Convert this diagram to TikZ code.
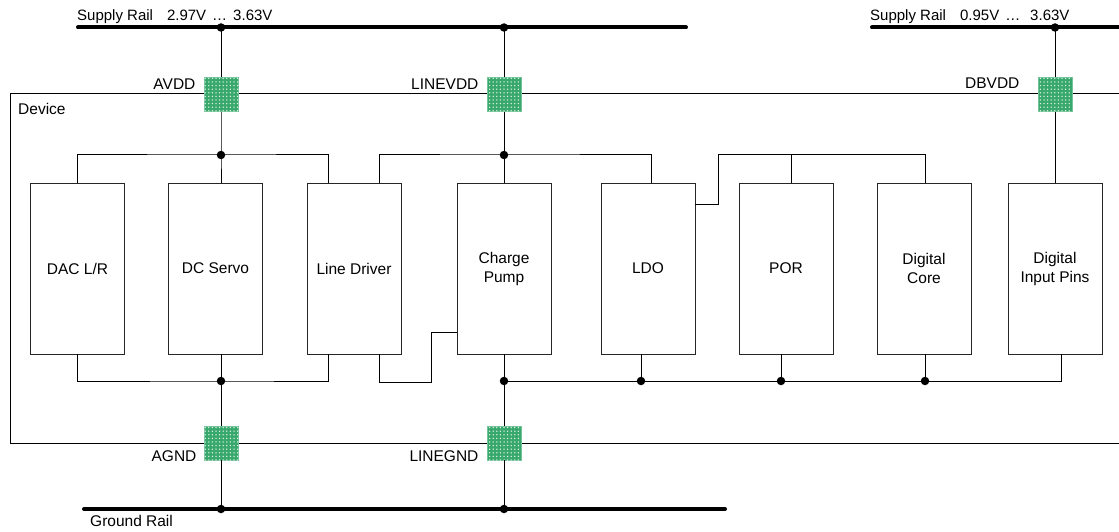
\documentclass[tikz,border=0pt]{standalone}
\usepackage{fontspec}
\setmainfont{Liberation Sans}
\usetikzlibrary{positioning,patterns.meta}

\begin{document}
\begin{tikzpicture}[x=1pt, y=-1pt, line join=miter]

		% Colors
		\definecolor{PadGreen}{RGB}{56,168,108}

		% Styles
		\tikzset{
			wire/.style={line width=1pt, draw=black},
			rail/.style={line width=4pt, line cap=round, draw=black},
			blk/.style={
				draw=black!85, line width=1pt, fill=white,
				minimum width=94pt, minimum height=171pt,
				inner sep=0pt, outer sep=0pt,
				align=center, font=\fontsize{15.5}{19}\selectfont
			},
			pad/.style={
				fill=PadGreen, draw=PadGreen!70!white, line width=0.8pt,
				minimum size=34pt, inner sep=0pt,
				postaction={pattern={Dots[distance=3.6pt, radius=0.75pt]}, pattern color=white!85!PadGreen}
			},
			jn/.style={circle, fill=black, inner sep=0pt, minimum size=8.5pt},
			lbl/.style={inner sep=0pt, font=\fontsize{15.5}{18}\selectfont},
			rlbl/.style={inner sep=0pt, font=\fontsize{15}{18}\selectfont}
		}

		\useasboundingbox (0,0) rectangle (1119,532);

		% Rails
		\draw[rail] (78,27.5) -- (686,27.5);
		\draw[rail] (872,27.5) -- (1125,27.5);
		\draw[rail] (84,509) -- (725,509);
		\node[rlbl, anchor=base west] (supA) at (77,21) {Supply Rail\hspace{14pt}2.97V\hspace{6pt}…\hspace{6pt}3.63V};
		\node[rlbl, anchor=base west] (supD) at (870,21) {Supply Rail\hspace{14pt}0.95V\hspace{6pt}…\hspace{10pt}3.63V};
		\node[lbl, anchor=base west] (gndTxt) at (90,526) {Ground Rail};

		% Device outline
		\draw[wire] (1119,94) -- (10.5,94) -- (10.5,443) -- (1119,443);
		\node[lbl, anchor=base west] (devLbl) at (18,115) {Device};

		% Pads
		\node[pad] (avdd) at (221,94.5) {};
		\node[pad] (linevdd) at (504,94.5) {};
		\node[pad] (dbvdd) at (1055,94.5) {};
		\node[pad] (agnd) at (221,443) {};
		\node[pad] (linegnd) at (504,443) {};

		\node[lbl, anchor=base east] (avddLbl) at ([xshift=-8pt, yshift=5pt]avdd.west) {AVDD};
		\node[lbl, anchor=base east] (linevddLbl) at ([xshift=-8pt, yshift=5pt]linevdd.west) {LINEVDD};
		\node[lbl, anchor=base east] (dbvddLbl) at ([xshift=-18pt, yshift=6pt]dbvdd.west) {DBVDD};
		\node[lbl, anchor=base east] (agndLbl) at ([xshift=-7pt, yshift=-18.5pt]agnd.west) {AGND};
		\node[lbl, anchor=base east] (linegndLbl) at ([xshift=-8pt, yshift=-18.5pt]linegnd.west) {LINEGND};

		% Blocks
		\node[blk] (dac) at (77.5,268.5) {DAC L/R};
		\node[blk, right=44pt of dac] (dcs) {DC Servo};
		\node[blk, right=44.5pt of dcs] (ld) {Line Driver};
		\node[blk, right=56pt of ld] (cp) {Charge\\Pump};
		\node[blk, right=50pt of cp] (ldo) {LDO};
		\node[blk, right=44pt of ldo] (por) {POR};
		\node[blk, right=44pt of por] (dc) {Digital\\Core};
		\node[blk, right=37pt of dc] (dip) {Digital\\Input Pins};

		% Junctions
		\coordinate (jAtop) at (221,27.5);
		\coordinate (jLtop) at (504,27.5);
		\coordinate (jDtop) at (1055,27.5);
		\coordinate (jAbus) at (221,155);
		\coordinate (jLbus) at (504,155);
		\coordinate (jAgnd) at (221,381);
		\coordinate (jLgnd) at (504,381);
		\coordinate (jAbot) at (221,509);
		\coordinate (jLbot) at (504,509);

		% AVDD
		\draw[wire] (jAtop) -- (avdd.north);
		\draw[wire] (avdd.south) -- (jAbus) -- (jAbus |- dcs.north);
		\coordinate (ldA) at ([xshift=-26pt]ld.north);
		\draw[wire] (dac.north) |- (jAbus) -| (ldA);

		% LINEVDD
		\draw[wire] (jLtop) -- (linevdd.north);
		\draw[wire] (linevdd.south) -- (linevdd.south |- cp.north);
		\coordinate (ldL) at ([xshift=25pt]ld.north);
		\coordinate (ldoIn) at ([xshift=3pt]ldo.north);
		\draw[wire] (ldL) |- (jLbus) -| (ldoIn);

		% LDO output
		\coordinate (ldoOut) at ([yshift=-21pt]ldo.north east);
		\coordinate (porIn) at ([xshift=5pt]por.north);
		\coordinate (dcIn) at ([xshift=1pt]dc.north);
		\draw[wire] (ldoOut) -- ++(23,0) |- (dcIn |- jLbus) -- (dcIn);
		\draw[wire] (porIn) -- (porIn |- jLbus);

		% DBVDD
		\draw[wire] (jDtop) -- (dbvdd.north);
		\draw[wire] (dbvdd.south) -- (dbvdd.south |- dip.north);

		% AGND
		\coordinate (ldG) at ([xshift=-26pt]ld.south);
		\draw[wire] (dac.south) |- (jAgnd) -| (ldG);
		\draw[wire] (jAgnd |- dcs.south) -- (agnd.north);
		\draw[wire] (agnd.south) -- (jAbot);

		% Line driver -> charge pump
		\coordinate (ldOut) at ([xshift=25pt]ld.south);
		\coordinate (cpIn) at ([yshift=-63.5pt]cp.west);
		\draw[wire] (ldOut) -- ++(0,28) -- ++(52,0) |- (cpIn);

		% LINEGND
		\draw[wire] (linegnd.north |- cp.south) -- (linegnd.north);
		\draw[wire] (linegnd.south) -- (jLbot);
		\coordinate (dipOut) at ([xshift=6pt]dip.south);
		\draw[wire] (jLgnd) -| (dipOut);
		\foreach \b/\dx in {ldo/-7, por/-5, dc/1}
			\draw[wire] ([xshift=\dx pt]\b.south) -- ++(0,27) node[jn] (d\b) {};

		% Dots
		\foreach \j in {jAtop,jLtop,jDtop,jAbus,jLbus,jAgnd,jLgnd,jAbot,jLbot}
			\node[jn] (d\j) at (\j) {};

	\end{tikzpicture}
\end{document}
